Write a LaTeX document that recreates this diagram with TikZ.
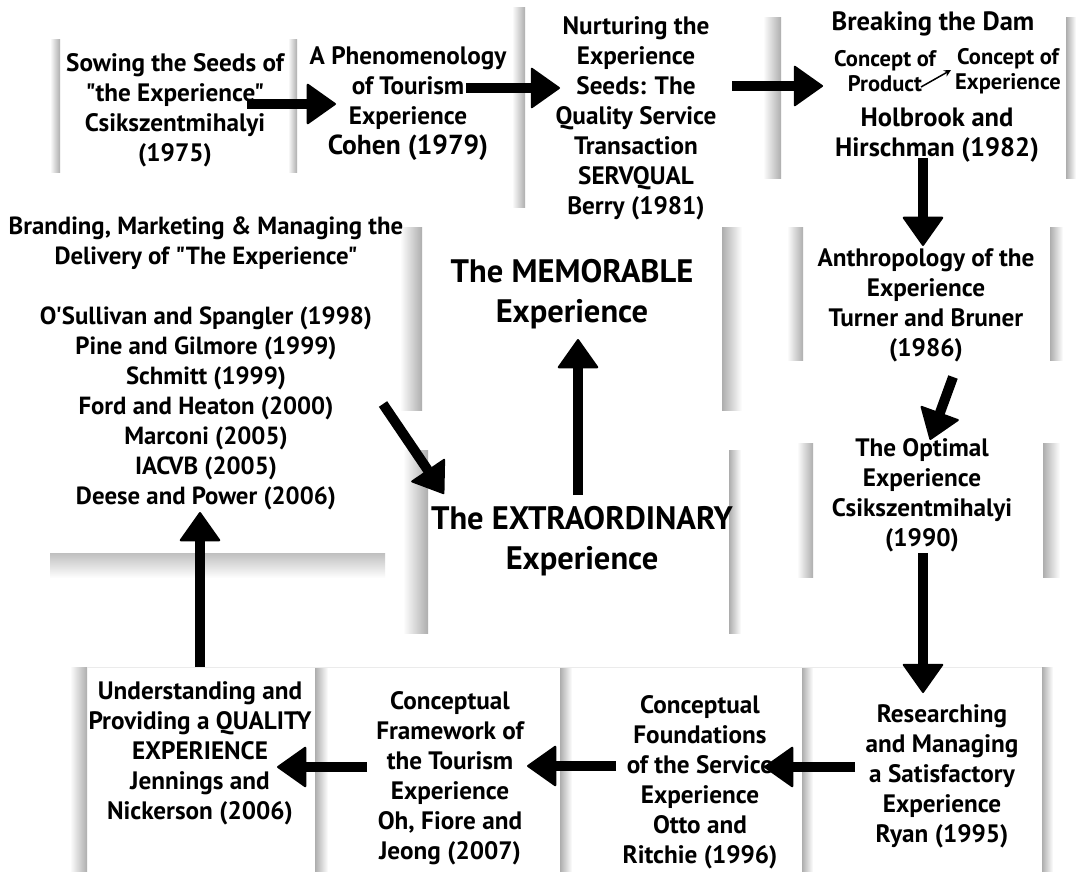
\documentclass[tikz,border=0pt]{standalone}
\usepackage{fontspec}
\setmainfont{PT Sans}[Ligatures=TeXOff]
\usetikzlibrary{arrows.meta}
\usetikzlibrary{positioning}
\newcommand{\lshadow}[4]% x1, x2, top, bottom (dark at right edge)
{\shade[left color=white, right color=black!32] (#1,#3) rectangle (#2,#4);
}
\newcommand{\rshadow}[4]% x1, x2, top, bottom (dark at left edge)
{\shade[left color=black!32, right color=white] (#1,#3) rectangle (#2,#4);
}

\begin{document}
\begin{tikzpicture}[x=1pt,y=-1pt,
	txt/.style={font=\bfseries\fontsize{25.2}{30}\selectfont, align=center, inner sep=0pt},
	big/.style={font=\bfseries\fontsize{32.5}{40}\selectfont, align=center, inner sep=0pt},
	small/.style={font=\bfseries\fontsize{22.5}{25}\selectfont, align=center, inner sep=0pt},
	arr/.style={line width=10pt, -{Triangle[width=42pt,length=30pt,line width=2pt,round]}},
	tinyarr/.style={line width=1.5pt, -{Stealth[length=7pt,width=7pt]}}]
	\useasboundingbox (0,0) rectangle (1076,872);
	\fill[white] (0,0) rectangle (1076,872);
	% card edges
	\lshadow{50}{60}{40}{172}%c1
	\lshadow{288}{297}{40}{172}%c2
	\lshadow{512}{525}{8}{207}%c3
	\lshadow{763}{781}{18}{178}%c4
	\rshadow{1066}{1076}{18}{178}
	\lshadow{400}{422}{227}{410}%c5
	\rshadow{722}{742}{227}{410}%c6
	\lshadow{787}{803}{227}{360}%c7
	\rshadow{1050}{1063}{227}{360}
	\lshadow{403}{428}{450}{633}%c8
	\rshadow{729}{741}{450}{633}
	\lshadow{797}{813}{443}{577}%c9
	\rshadow{1043}{1060}{443}{577}
	\shade[top color=black!25, bottom color=white] (50,553) rectangle (385,578);
	\lshadow{70}{87}{667}{872}%c10
	\rshadow{315}{328}{667}{872}%c11
	\rshadow{560}{572}{667}{872}%c12
	\rshadow{802}{813}{667}{872}%c13
	\rshadow{1042}{1053}{667}{872}
	\draw[black!8] (87,667) -- (1042,667);
	% texts
	\node[txt] (sow) at (175,110) {Sowing the Seeds of\\"the Experience"\\Csikszentmihalyi\\(1975)};
	\node[txt] (phen) at (408,104) {A Phenomenology\\of Tourism\\Experience\\{\fontsize{27.5}{34}\selectfont Cohen (1979)}};
	\node[txt] (nurt) at (636,118) {Nurturing the\\Experience\\Seeds: The\\Quality Service\\Transaction\\SERVQUAL\\Berry (1981)};
	\node[txt, font=\bfseries\fontsize{26.5}{30}\selectfont] (dam) at (933,24) {Breaking the Dam};
	\node[small] (prod) at (885,71) {Concept of\\Product};
	\node[small] (expc) at (1008,71) {Concept of\\Experience};
	\node[txt, font=\bfseries\fontsize{26.5}{30}\selectfont] (holb) at (937,135) {Holbrook and\\Hirschman (1982)};
	\node[txt, font=\bfseries\fontsize{24.8}{30}\selectfont] (brand) at (206,363) {Branding, Marketing \& Managing the\\Delivery of "The Experience"\\[30pt]O'Sullivan and Spangler (1998)\\Pine and Gilmore (1999)\\Schmitt (1999)\\Ford and Heaton (2000)\\Marconi (2005)\\IACVB (2005)\\Deese and Power (2006)};
	\node[big] (memo) at (572,294) {The MEMORABLE\\Experience};
	\node[big] (extra) at (582,541) {The EXTRAORDINARY\\Experience};
	\node[txt] (anth) at (926,305) {Anthropology of the\\Experience\\Turner and Bruner\\(1986)};
	\node[txt] (opt) at (922,495) {The Optimal\\Experience\\Csikszentmihalyi\\(1990)};
	\node[txt] (res) at (942,776) {Researching\\and Managing\\a Satisfactory\\Experience\\Ryan (1995)};
	\node[txt] (found) at (700,782) {Conceptual\\Foundations\\of the Service\\Experience\\Otto and\\Ritchie (1996)};
	\node[txt] (frame) at (450,778) {Conceptual\\Framework of\\the Tourism\\Experience\\Oh, Fiore and\\Jeong (2007)};
	\node[txt] (und) at (200,753) {Understanding and\\Providing a QUALITY\\EXPERIENCE\\Jennings and\\Nickerson (2006)};
	% arrow ends
	\coordinate (sow-out) at (247,104);
	\coordinate (phen-in) at (336,104);
	\coordinate (phen-out) at (466,88);
	\coordinate (nurt-in) at (560,88);
	\coordinate (nurt-out) at (732,86);
	\coordinate (dam-in) at (823,86);
	\coordinate (holb-out) at (923,158);
	\coordinate (anth-in) at (923,246);
	\coordinate (anth-out) at (953,377);
	\coordinate (opt-in) at (930,440);
	\coordinate (opt-out) at (923,553);
	\coordinate (res-in) at (923,693);
	\coordinate (res-out) at (855,767);
	\coordinate (found-in) at (764,767);
	\coordinate (found-out) at (616,766);
	\coordinate (frame-in) at (527,766);
	\coordinate (frame-out) at (367,767);
	\coordinate (und-in) at (277,767);
	\coordinate (und-out) at (200,667);
	\coordinate (brand-in) at (200,512);
	\coordinate (brand-out) at (383,404);
	\coordinate (extra-in) at (444,494);
	\coordinate (extra-out) at (578,495);
	\coordinate (memo-in) at (578,339);
	\coordinate (prod-out) at (921,87);
	\coordinate (expc-in) at (951,70);
	% arrows
	\draw[arr] (sow-out) -- (phen-in);
	\draw[arr] (phen-out) -- (nurt-in);
	\draw[arr] (nurt-out) -- (dam-in);
	\draw[arr] (holb-out) -- (anth-in);
	\draw[arr] (anth-out) -- (opt-in);
	\draw[arr] (opt-out) -- (res-in);
	\draw[arr] (res-out) -- (found-in);
	\draw[arr] (found-out) -- (frame-in);
	\draw[arr] (frame-out) -- (und-in);
	\draw[arr] (und-out) -- (brand-in);
	\draw[arr] (brand-out) -- (extra-in);
	\draw[arr] (extra-out) -- (memo-in);
	\draw[tinyarr] (prod-out) -- (expc-in);
\end{tikzpicture}
\end{document}
